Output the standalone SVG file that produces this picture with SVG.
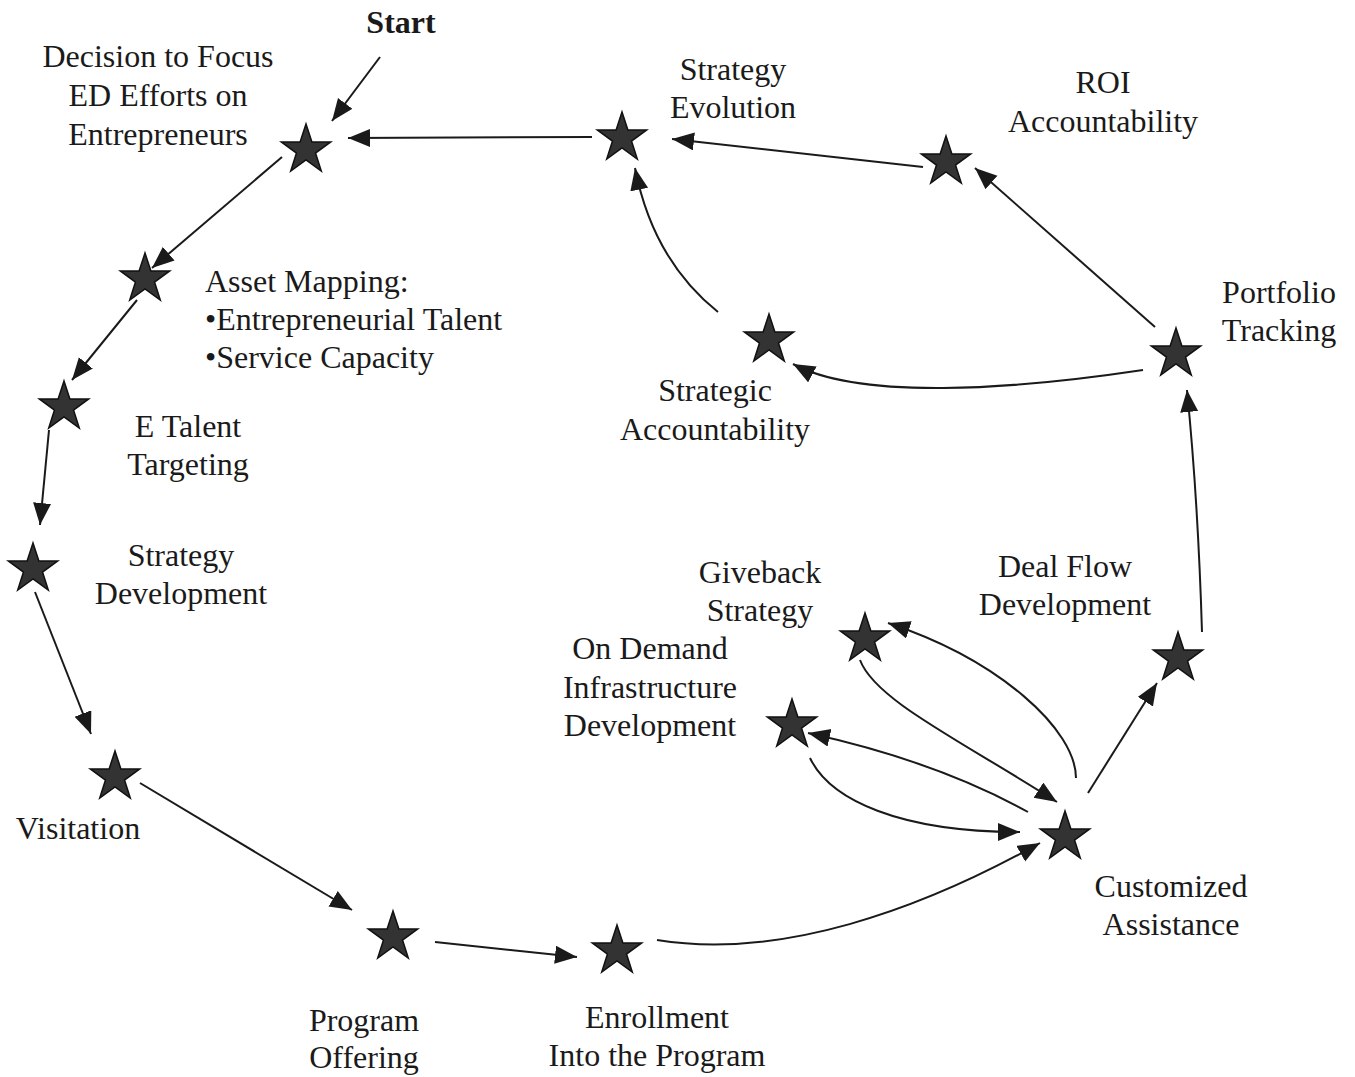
<svg xmlns="http://www.w3.org/2000/svg" width="1355" height="1077" viewBox="0 0 1355 1077">
  <defs>
    <path id="star" d="M0,-26 L5.88,-8.09 L24.73,-8.03 L9.51,3.09 L15.28,21.03 L0,10 L-15.28,21.03 L-9.51,3.09 L-24.73,-8.03 L-5.88,-8.09 Z"/>
    <marker id="arrow" markerUnits="userSpaceOnUse" markerWidth="24" markerHeight="20" refX="22" refY="9" orient="auto">
      <path d="M0,0 L22,9 L0,18 Z" fill="#1a1a1a"/>
    </marker>
  </defs>
  <style>
    .bg { fill: #ffffff; }
    .st { fill: #333333; stroke: #111111; stroke-width: 1.5; stroke-linejoin: miter; }
    .lbl { font-family: "Liberation Serif", "Times New Roman", serif; font-size: 32px; fill: #1a1a1a; text-anchor: middle; }
    .left { text-anchor: start; }
    .bold { font-weight: bold; }
    .edge { fill: none; stroke: #1a1a1a; stroke-width: 2; marker-end: url(#arrow); }
  </style>
  <rect class="bg" x="0" y="0" width="1355" height="1077"/>

  <g id="start-label">
    <text class="lbl bold" x="401" y="33">Start</text>
  </g>

  <g id="connectors">
    <path class="edge" d="M380,57 L332,121"/>
    <path class="edge" d="M592,137 L348,138"/>
    <path class="edge" d="M923,167 L672,139"/>
    <path class="edge" d="M1155,327 L975,168"/>
    <path class="edge" d="M1143,370 C1010,390 860,400 793,364"/>
    <path class="edge" d="M718,312 Q653,260 635,168"/>
    <path class="edge" d="M282,157 L152,268"/>
    <path class="edge" d="M137,300 L72,380"/>
    <path class="edge" d="M49,430 L40,525"/>
    <path class="edge" d="M35,592 L91,734"/>
    <path class="edge" d="M140,783 L352,910"/>
    <path class="edge" d="M435,942 L577,957"/>
    <path class="edge" d="M657,940 C780,960 920,910 1040,843"/>
    <path class="edge" d="M1088,793 L1157,683"/>
    <path class="edge" d="M1202,632 Q1198,500 1187,390"/>
    <path class="edge" d="M1076,778 C1076,730 1000,660 888,623"/>
    <path class="edge" d="M860,660 C875,700 960,740 1057,802"/>
    <path class="edge" d="M1028,812 Q936,761 808,733"/>
    <path class="edge" d="M810,758 C830,800 900,832 1020,832"/>
  </g>

  <g id="decision">
    <use href="#star" class="st" x="306" y="150"/>
    <text class="lbl" x="158" y="67">Decision to Focus</text>
    <text class="lbl" x="158" y="106">ED Efforts on</text>
    <text class="lbl" x="158" y="145">Entrepreneurs</text>
  </g>
  <g id="asset-mapping">
    <use href="#star" class="st" x="145" y="279"/>
    <text class="lbl left" x="205" y="292">Asset Mapping:</text>
    <text class="lbl left" x="205" y="330">•Entrepreneurial Talent</text>
    <text class="lbl left" x="205" y="368">•Service Capacity</text>
  </g>
  <g id="e-talent">
    <use href="#star" class="st" x="64" y="407"/>
    <text class="lbl" x="188" y="437">E Talent</text>
    <text class="lbl" x="188" y="475">Targeting</text>
  </g>
  <g id="strategy-development">
    <use href="#star" class="st" x="33" y="569"/>
    <text class="lbl" x="181" y="566">Strategy</text>
    <text class="lbl" x="181" y="604">Development</text>
  </g>
  <g id="visitation">
    <use href="#star" class="st" x="115" y="777"/>
    <text class="lbl" x="78" y="839">Visitation</text>
  </g>
  <g id="program-offering">
    <use href="#star" class="st" x="393" y="937"/>
    <text class="lbl" x="364" y="1031">Program</text>
    <text class="lbl" x="364" y="1068">Offering</text>
  </g>
  <g id="enrollment">
    <use href="#star" class="st" x="617" y="951"/>
    <text class="lbl" x="657" y="1028">Enrollment</text>
    <text class="lbl" x="657" y="1066">Into the Program</text>
  </g>
  <g id="customized-assistance">
    <use href="#star" class="st" x="1065" y="837"/>
    <text class="lbl" x="1171" y="897">Customized</text>
    <text class="lbl" x="1171" y="935">Assistance</text>
  </g>
  <g id="on-demand">
    <use href="#star" class="st" x="792" y="725"/>
    <text class="lbl" x="650" y="659">On Demand</text>
    <text class="lbl" x="650" y="698">Infrastructure</text>
    <text class="lbl" x="650" y="736">Development</text>
  </g>
  <g id="giveback">
    <use href="#star" class="st" x="865" y="639"/>
    <text class="lbl" x="760" y="583">Giveback</text>
    <text class="lbl" x="760" y="621">Strategy</text>
  </g>
  <g id="deal-flow">
    <use href="#star" class="st" x="1178" y="658"/>
    <text class="lbl" x="1065" y="577">Deal Flow</text>
    <text class="lbl" x="1065" y="615">Development</text>
  </g>
  <g id="portfolio-tracking">
    <use href="#star" class="st" x="1176" y="354"/>
    <text class="lbl" x="1279" y="303">Portfolio</text>
    <text class="lbl" x="1279" y="341">Tracking</text>
  </g>
  <g id="roi">
    <use href="#star" class="st" x="946" y="162"/>
    <text class="lbl" x="1103" y="93">ROI</text>
    <text class="lbl" x="1103" y="132">Accountability</text>
  </g>
  <g id="strategy-evolution">
    <use href="#star" class="st" x="622" y="138"/>
    <text class="lbl" x="733" y="80">Strategy</text>
    <text class="lbl" x="733" y="118">Evolution</text>
  </g>
  <g id="strategic-accountability">
    <use href="#star" class="st" x="769" y="340"/>
    <text class="lbl" x="715" y="401">Strategic</text>
    <text class="lbl" x="715" y="440">Accountability</text>
  </g>
</svg>
